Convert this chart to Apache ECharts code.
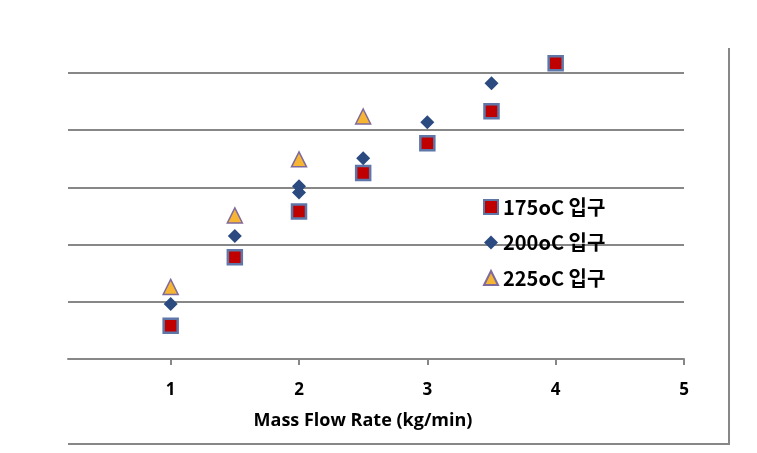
<!DOCTYPE html>
<html><head><meta charset="utf-8">
<script src="https://cdn.jsdelivr.net/npm/echarts@6/dist/echarts.min.js"></script>
<style>html,body{margin:0;padding:0;background:#fff}#c{width:757px;height:453px}</style>
</head><body><div id="c"></div>
<script>
const seriesNames = ['175oC 입구', '200oC 입구', '225oC 입구'];
const x175 = [1, 1.5, 2, 2.5, 3, 3.5, 4];
const y175 = [0.58, 1.78, 2.58, 3.25, 3.77, 4.33, 5.17];
const x200 = [1, 1.5, 2, 2, 2.5, 3, 3.5];
const y200 = [0.96, 2.15, 3.02, 2.91, 3.51, 4.14, 4.82];
const x225 = [1, 1.5, 2, 2.5];
const y225 = [1.26, 2.51, 3.49, 4.24];
const xTicks = [1, 2, 3, 4, 5];

const pair = (xs, ys) => xs.map((v, i) => [v, ys[i]]);
const grey = '#878787';
const chart = echarts.init(document.getElementById('c'), null, {renderer: 'canvas'});
chart.setOption({
  animation: false,
  backgroundColor: '#fff',
  grid: {left: 68, right: 73, top: 73, bottom: 94},
  xAxis: {
    type: 'value', min: 0.2, max: 5,
    splitLine: {show: false},
    axisLine: {lineStyle: {color: grey, width: 2}},
    axisTick: {show: true, length: 6, lineStyle: {color: grey, width: 2}, customValues: xTicks},
    axisLabel: {customValues: xTicks, margin: 23, color: '#000', fontSize: 17, fontWeight: 'bold', fontFamily: 'Open Sans'},
    name: 'Mass Flow Rate (kg/min)', nameLocation: 'middle', nameGap: 53,
    nameTextStyle: {color: '#000', fontSize: 18, fontWeight: 'bold', fontFamily: 'Open Sans', padding: [0, 26, 0, 0]}
  },
  yAxis: {
    type: 'value', min: 0, max: 5, interval: 1,
    axisLine: {show: false}, axisTick: {show: false}, axisLabel: {show: false},
    splitLine: {lineStyle: {color: grey, width: 2}}
  },
  legend: {
    orient: 'vertical', left: 478, top: 192, itemGap: 15.5,
    itemWidth: 14, itemHeight: 14, itemStyle: {},
    textStyle: {color: '#000', fontSize: 20, fontWeight: 'bold', fontFamily: 'Noto Sans CJK KR'},
    data: seriesNames
  },
  series: [
    {name: seriesNames[0], type: 'scatter', clip: false, symbol: 'rect', symbolSize: 14,
     itemStyle: {color: '#C00000', borderColor: '#5E76A8', borderWidth: 2.5, opacity: 1},
     data: pair(x175, y175), z: 3},
    {name: seriesNames[1], type: 'scatter', clip: false, symbol: 'diamond', symbolSize: 14,
     itemStyle: {color: '#2B4A80', opacity: 1},
     data: pair(x200, y200), z: 4},
    {name: seriesNames[2], type: 'scatter', clip: false, symbol: 'triangle', symbolSize: 15,
     itemStyle: {color: '#F6B532', borderColor: '#7F6A9E', borderWidth: 1.5, opacity: 1},
     data: pair(x225, y225), z: 5}
  ],
  graphic: [
    {type: 'line', shape: {x1: 729, y1: 48, x2: 729, y2: 444}, style: {stroke: grey, lineWidth: 2}, silent: true},
    {type: 'line', shape: {x1: 68, y1: 444, x2: 730, y2: 444}, style: {stroke: grey, lineWidth: 2}, silent: true}
  ]
});
</script></body></html>
